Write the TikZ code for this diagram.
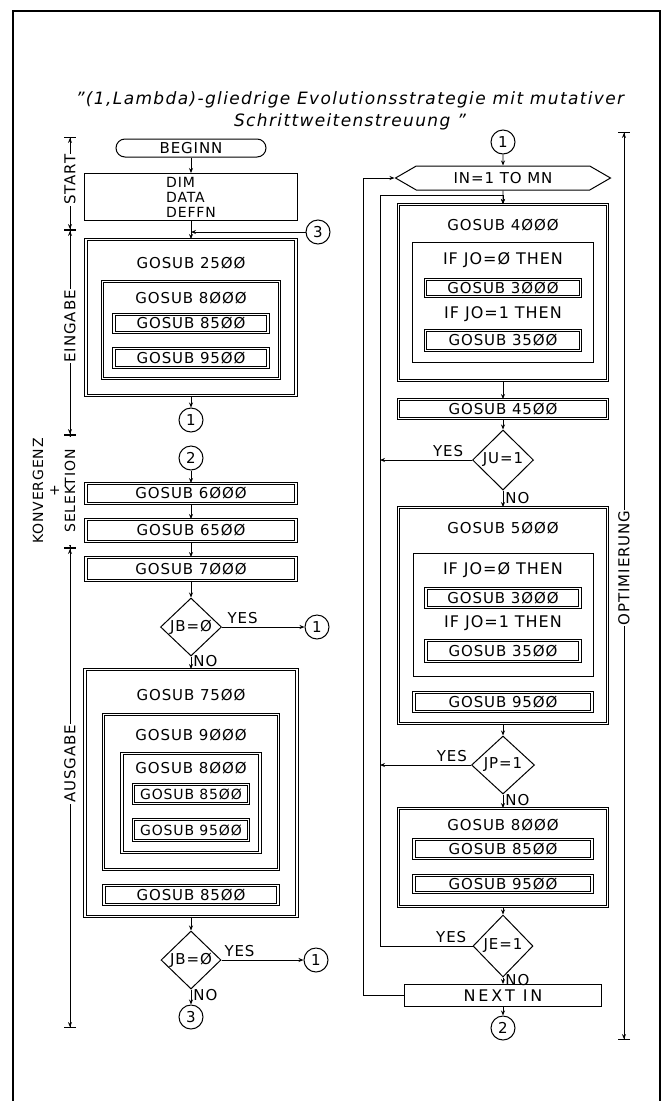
\documentclass[tikz,border=0pt]{standalone}
\usepackage{fontspec}
\setmainfont{DejaVu Sans}[LetterSpace=6]
\usetikzlibrary{arrows.meta,shapes.geometric,shapes.misc,shapes.symbols}

\begin{document}
\begin{tikzpicture}[x=1pt, y=-1pt, >={Stealth[length=5pt, width=4pt]},
    font=\fontsize{15}{17}\selectfont,
    dbox/.style={rectangle, draw, double, double distance=1.7pt, line width=0.9pt, inner sep=0pt},
    sbox/.style={rectangle, draw, line width=1pt, inner sep=0pt},
    cond/.style={diamond, draw, line width=1pt, inner sep=0pt},
    conn/.style={circle, draw, line width=1pt, minimum size=24pt, inner sep=0pt},
    loopbox/.style={signal, signal to=west and east, signal pointer angle=60, draw, line width=1pt, inner sep=0pt},
    edge/.style={->, line width=0.9pt},
    sideline/.style={{Bar[width=12pt]Stealth[length=5pt, width=4pt]}-{Stealth[length=5pt, width=4pt]Bar[width=12pt]}, line width=0.9pt},
    sidetxt/.style={rotate=90, fill=white, inner sep=1pt},
    iftxt/.style={font=\fontsize{16}{18}\selectfont}]

\useasboundingbox (0,0) rectangle (661,1101);
\draw [line width=1.3pt] (13,1101) -- (13,11) -- (660,11) -- (660,1101);

\node [align=center, font=\fontsize{17}{22}\selectfont\itshape\addfontfeature{LetterSpace=8}] (title) at (350,111) {"(1,Lambda)-gliedrige Evolutionsstrategie mit mutativer\\Schrittweitenstreuung "};

% left column
\node [rounded rectangle, draw, line width=1pt, minimum width=150pt, minimum height=18pt, inner sep=0pt] (beginn) at (191,148) {BEGINN};
\node [sbox, minimum width=213pt, minimum height=47pt, align=left, font=\fontsize{14}{15}\selectfont] (dim) at (191,197) {DIM\\DATA\\DEFFN};
\node [dbox, minimum width=210pt, minimum height=156pt] (g2500) at (191,317.5) {};
\node (t2500) at (191,263) {GOSUB 25ØØ};
\node [dbox, minimum width=177pt, minimum height=97pt] (g8000a) at (191,330) {};
\node (t8000a) at (191,298) {GOSUB 8ØØØ};
\node [dbox, minimum width=154pt, minimum height=18pt] (g8500a) at (191,323.5) {GOSUB 85ØØ};
\node [dbox, minimum width=154pt, minimum height=19pt] (g9500a) at (191,358) {GOSUB 95ØØ};
\node [conn] (c1a) at (191,420) {1};
\node [conn] (c3top) at (318,232) {3};

\node [conn] (c2a) at (191,458) {2};
\node [dbox, minimum width=210pt, minimum height=20pt] (g6000) at (191,493.5) {GOSUB 6ØØØ};
\node [dbox, minimum width=210pt, minimum height=22pt] (g6500) at (191,530.5) {GOSUB 65ØØ};
\node [dbox, minimum width=210pt, minimum height=23pt] (g7000) at (191,569) {GOSUB 7ØØØ};
\node [cond, minimum width=61pt, minimum height=58pt] (jb1) at (191,627) {JB=Ø};
\node [conn] (c1b) at (317,627) {1};
\node [dbox, minimum width=212pt, minimum height=247pt] (g7500) at (191,793) {};
\node (t7500) at (191,695) {GOSUB 75ØØ};
\node [dbox, minimum width=175pt, minimum height=155pt] (g9000) at (191,792) {};
\node (t9000) at (191,735) {GOSUB 9ØØØ};
\node [dbox, minimum width=138pt, minimum height=99pt] (g8000b) at (191,803) {};
\node (t8000b) at (191,768) {GOSUB 8ØØØ};
\node [dbox, minimum width=115pt, minimum height=19pt, font=\fontsize{14}{16}\selectfont] (g8500b) at (191,794) {GOSUB 85ØØ};
\node [dbox, minimum width=115pt, minimum height=21pt, font=\fontsize{14}{16}\selectfont] (g9500b) at (191,830) {GOSUB 95ØØ};
\node [dbox, minimum width=174pt, minimum height=19pt] (g8500c) at (191,895) {GOSUB 85ØØ};
\node [cond, minimum width=60pt, minimum height=58pt] (jb2) at (191,960) {JB=Ø};
\node [conn] (c1c) at (316,960) {1};
\node [conn] (c3) at (191,1017) {3};

\draw [edge] (beginn) -- (dim);
\draw [edge] (dim) -- (g2500);
\draw [edge] (c3top.west) -- (c3top.west -| g2500.north);
\draw [edge] (g2500) -- (c1a);
\draw [edge] (c2a) -- (g6000);
\draw [edge] (g6000) -- (g6500);
\draw [edge] (g6500) -- (g7000);
\draw [edge] (g7000) -- (jb1);
\draw [edge] (jb1) -- node[above, pos=0.25] {YES} (c1b);
\draw [edge] (jb1) -- node[right, pos=0.4, inner sep=2pt] {NO} (g7500);
\draw [edge] (g7500) -- (jb2);
\draw [edge] (jb2) -- node[above, pos=0.22] {YES} (c1c);
\draw [edge] (jb2) -- node[right, pos=0.4, inner sep=2pt] {NO} (c3);

% right column
\node [conn] (c1top) at (503,142) {1};
\node [loopbox, minimum width=215pt, minimum height=24pt] (loop) at (503,178) {IN=1 TO MN};
\node [dbox, minimum width=209pt, minimum height=176pt] (g4000) at (503,292.5) {};
\node (t4000) at (503,225) {GOSUB 4ØØØ};
\node [sbox, minimum width=181pt, minimum height=120pt] (if4000) at (503,302.5) {};
\node [iftxt] (tif0a) at (503,260) {IF JO=Ø THEN};
\node [dbox, minimum width=155pt, minimum height=17pt] (g3000a) at (503,288) {GOSUB 3ØØØ};
\node [iftxt] (tif1a) at (503,314) {IF JO=1 THEN};
\node [dbox, minimum width=155pt, minimum height=20pt] (g3500a) at (503,340.5) {GOSUB 35ØØ};
\node [dbox, minimum width=209pt, minimum height=19pt] (g4500) at (503,409) {GOSUB 45ØØ};
\node [cond, minimum width=61pt, minimum height=60pt] (ju) at (503,460) {JU=1};
\node [dbox, minimum width=209pt, minimum height=216pt] (g5000) at (503,615.5) {};
\node (t5000) at (503,528) {GOSUB 5ØØØ};
\node [sbox, minimum width=180pt, minimum height=123pt] (if5000) at (503,615) {};
\node [iftxt] (tif0b) at (503,570) {IF JO=Ø THEN};
\node [dbox, minimum width=154pt, minimum height=19pt] (g3000b) at (503,598) {GOSUB 3ØØØ};
\node [iftxt] (tif1b) at (503,623) {IF JO=1 THEN};
\node [dbox, minimum width=154pt, minimum height=21pt] (g3500b) at (503,651) {GOSUB 35ØØ};
\node [dbox, minimum width=178pt, minimum height=19pt] (g9500c) at (503,702) {GOSUB 95ØØ};
\node [cond, minimum width=63pt, minimum height=58pt] (jp) at (503,765) {JP=1};
\node [dbox, minimum width=209pt, minimum height=98pt] (g8000c) at (503,857.5) {};
\node (t8000c) at (503,825) {GOSUB 8ØØØ};
\node [dbox, minimum width=178pt, minimum height=19pt] (g8500d) at (503,849) {GOSUB 85ØØ};
\node [dbox, minimum width=178pt, minimum height=17pt] (g9500d) at (503,884) {GOSUB 95ØØ};
\node [cond, minimum width=60pt, minimum height=62pt] (je) at (503,946) {JE=1};
\node [sbox, minimum width=197pt, minimum height=22pt, font=\fontsize{16}{18}\selectfont\addfontfeature{LetterSpace=18}] (nextin) at (503,995.5) {NEXT IN};
\node [conn] (c2b) at (503,1028) {2};

\coordinate (lpout) at (363,178);
\coordinate (lpin) at (380,195);

\draw [edge] (c1top) -- (loop);
\draw [edge] (loop) -- (g4000);
\draw [edge] (g4000) -- (g4500);
\draw [edge] (g4500) -- (ju);
\draw [edge] (ju.west) -- node[above, pos=0.26] {YES} (ju.west -| lpin);
\draw [edge] (ju) -- node[right, pos=0.45, inner sep=2pt] {NO} (g5000);
\draw [edge] (g5000) -- (jp);
\draw [edge] (jp.west) -- node[above, pos=0.21] {YES} (jp.west -| lpin);
\draw [edge] (jp) -- node[right, pos=0.4, inner sep=2pt] {NO} (g8000c);
\draw [edge] (g8000c) -- (je);
\draw [edge] (je.west) -- node[above, pos=0.23] {YES} (je.west -| lpin) -- (lpin) -| (g4000.north);
\draw [edge] (je) -- node[right, pos=0.4, inner sep=2pt] {NO} (nextin);
\draw [edge] (nextin.west) -| (lpout) -- (loop.west);
\draw [edge] (nextin) -- (c2b);

% phases
\coordinate (t0) at (70,137);
\coordinate (t1) at (70,230);
\coordinate (t2) at (70,435);
\coordinate (t3) at (70,548);
\coordinate (t4) at (70,1028);
\coordinate (r0) at (624,132);
\coordinate (r1) at (624,1040);

\draw [sideline] (t0) -- node[sidetxt, pos=0.46] (lstart) {START} (t1);
\draw [sideline] (t1) -- node[sidetxt, pos=0.47] (leingabe) {EINGABE} (t2);
\draw [sideline] (t2) -- (t3);
\node [sidetxt, align=center, font=\fontsize{14}{16}\selectfont] (lkonv) at (54,491) {KONVERGENZ\\+\\SELEKTION};
\draw [sideline] (t3) -- node[sidetxt, pos=0.45] (lausgabe) {AUSGABE} (t4);
\draw [sideline] (r0) -- node[sidetxt, pos=0.48] (lopt) {OPTIMIERUNG} (r1);

\end{tikzpicture}
\end{document}
